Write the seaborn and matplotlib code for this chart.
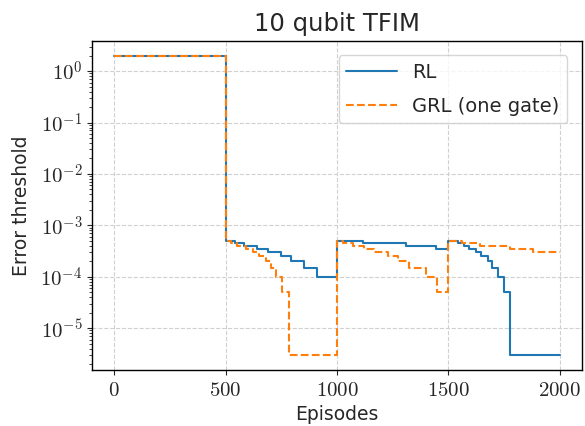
import numpy as np
import pandas as pd
import matplotlib
matplotlib.use("Agg")
import matplotlib.pyplot as plt
import matplotlib.ticker as mticker
import seaborn as sns

# change points of the step curves (episode, threshold from that episode on)
rl_episodes = [0, 500, 540, 583, 640, 690, 750, 795, 853, 912,
               1000, 1115, 1308, 1446,
               1500, 1541, 1571, 1594, 1623, 1645, 1676, 1698, 1723, 1750, 1775, 2000]
rl_values = [2.0, 5e-4, 4.5e-4, 4e-4, 3.5e-4, 3e-4, 2.5e-4, 2e-4, 1.5e-4, 1e-4,
             5e-4, 4.5e-4, 4e-4, 3.5e-4,
             5e-4, 4.5e-4, 4e-4, 3.5e-4, 3e-4, 2.5e-4, 2e-4, 1.5e-4, 1e-4, 5e-5, 3e-6, 3e-6]

grl_episodes = [0, 500, 524, 553, 591, 621, 651, 681, 703, 726, 755, 785,
                1000, 1025, 1070, 1122, 1167, 1227, 1272, 1324, 1399, 1451,
                1500, 1560, 1640, 1775, 1882, 2000]
grl_values = [2.0, 5e-4, 4.5e-4, 4e-4, 3.5e-4, 3e-4, 2.5e-4, 2e-4, 1.5e-4, 1e-4, 5e-5, 3e-6,
              5e-4, 4.5e-4, 4e-4, 3.5e-4, 3e-4, 2.5e-4, 2e-4, 1.5e-4, 1e-4, 5e-5,
              5e-4, 4.5e-4, 4e-4, 3.5e-4, 3e-4, 3e-4]

x_ticks = [0, 500, 1000, 1500, 2000]
y_exponents = [-5, -4, -3, -2, -1, 0]

sns.set_style("white")
plt.rcParams["font.family"] = ["DejaVu Sans"]
plt.rcParams["mathtext.fontset"] = "cm"

df_rl = pd.DataFrame({"Episodes": rl_episodes, "Error": rl_values})
df_grl = pd.DataFrame({"Episodes": grl_episodes, "Error": grl_values})

fig = plt.figure(figsize=(5.85, 4.26), dpi=100)
ax = fig.add_axes([0.1573, 0.1315, 0.8376, 0.773])

sns.lineplot(data=df_rl, x="Episodes", y="Error", ax=ax, estimator=None, sort=False,
             drawstyle="steps-post", color="#1f77b4", lw=1.5, label="RL")
sns.lineplot(data=df_grl, x="Episodes", y="Error", ax=ax, estimator=None, sort=False,
             drawstyle="steps-post", color="#ff7f0e", lw=1.5, linestyle="--",
             label="GRL (one gate)")

ax.set_yscale("log")
ax.set_xticks(x_ticks)
ax.set_xticklabels([f"${t}$" for t in x_ticks])
ax.set_yticks([10.0 ** e for e in y_exponents])
ax.set_yticklabels([f"$10^{{{e}}}$" for e in y_exponents])
ax.yaxis.set_minor_locator(mticker.LogLocator(base=10, subs=np.arange(2, 10), numticks=20))
ax.yaxis.set_minor_formatter(mticker.NullFormatter())
ax.tick_params(axis="both", which="major", labelsize=15, length=3.5, width=0.8,
               direction="out", left=True, bottom=True)
ax.tick_params(axis="y", which="minor", length=2, width=0.6, left=True)

ax.grid(True, which="major", linestyle="--", color="#d0d0d0", lw=0.8)
for s in ax.spines.values():
    s.set_color("black")
    s.set_linewidth(1.0)

ax.set_xlabel("Episodes", fontsize=13.5, labelpad=3.5)
ax.set_ylabel("Error threshold", fontsize=13.5, labelpad=7)
ax.set_title("10 qubit TFIM", fontsize=17.5, pad=7)

ax.legend(loc="upper right", fontsize=14, handlelength=2.6, framealpha=0.8,
          borderaxespad=0.75, labelspacing=0.75)

fig.savefig("out.png", dpi=100)
